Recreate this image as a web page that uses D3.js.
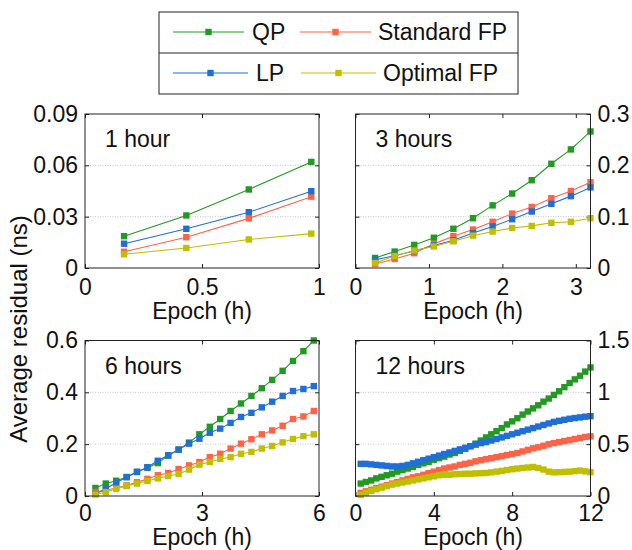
<!DOCTYPE html>
<html>
<head>
<meta charset="utf-8">
<script src="https://cdn.jsdelivr.net/npm/d3@7"></script>
<style>
  body { margin: 0; background: #fff; }
  text { font-family: "Liberation Sans", Arial, sans-serif; fill: #111; }
</style>
</head>
<body>
<svg id="chart" width="632" height="550"></svg>
<script>
// series order: QP, Standard FP, LP, Optimal FP
const seriesNames = ["QP", "Standard FP", "LP", "Optimal FP"];
const seriesColors = ["#229922", "#ff6347", "#1f6fd6", "#bfbf00"];

// 1 hour window
const epoch1h = [0.167, 0.433, 0.7, 0.967];
const qp1h  = [0.0186, 0.0307, 0.0459, 0.062];
const sfp1h = [0.0095, 0.018, 0.029, 0.0417];
const lp1h  = [0.0142, 0.0229, 0.0326, 0.0449];
const ofp1h = [0.008, 0.0117, 0.0167, 0.0201];

// 3 hour window
const epoch3h = [0.267, 0.533, 0.8, 1.067, 1.333, 1.6, 1.867, 2.133, 2.4, 2.667, 2.933, 3.2];
const qp3h  = [0.0196, 0.032, 0.045, 0.059, 0.0765, 0.097, 0.122, 0.145, 0.171, 0.203, 0.231, 0.266];
const sfp3h = [0.0078, 0.0176, 0.0288, 0.047, 0.062, 0.075, 0.09, 0.106, 0.119, 0.136, 0.15, 0.167];
const lp3h  = [0.016, 0.024, 0.033, 0.044, 0.054, 0.068, 0.081, 0.095, 0.11, 0.125, 0.14, 0.157];
const ofp3h = [0.0098, 0.0235, 0.034, 0.042, 0.052, 0.063, 0.071, 0.078, 0.082, 0.088, 0.09, 0.097];

// 6 hour window
const epoch6h = [0.267, 0.533, 0.8, 1.067, 1.333, 1.6, 1.867, 2.133, 2.4, 2.667, 2.933,
  3.2, 3.467, 3.733, 4.0, 4.267, 4.533, 4.8, 5.067, 5.333, 5.6, 5.867];
const qp6h  = [0.031, 0.048, 0.059, 0.073, 0.093, 0.109, 0.127, 0.156, 0.179, 0.206, 0.238,
  0.267, 0.297, 0.328, 0.357, 0.386, 0.416, 0.448, 0.483, 0.521, 0.559, 0.6];
const sfp6h = [0.015, 0.022, 0.031, 0.041, 0.053, 0.066, 0.08, 0.089, 0.104, 0.118, 0.131,
  0.15, 0.163, 0.183, 0.202, 0.219, 0.238, 0.253, 0.271, 0.297, 0.307, 0.328];
const lp6h  = [0.008, 0.028, 0.051, 0.073, 0.093, 0.111, 0.136, 0.157, 0.179, 0.202, 0.221,
  0.244, 0.26, 0.282, 0.305, 0.321, 0.342, 0.364, 0.386, 0.405, 0.413, 0.424];
const ofp6h = [0.006, 0.015, 0.028, 0.039, 0.048, 0.058, 0.068, 0.077, 0.085, 0.102, 0.121,
  0.131, 0.143, 0.15, 0.163, 0.17, 0.183, 0.193, 0.207, 0.22, 0.231, 0.238];

// 12 hour window
const epoch12h = [0.267, 0.533, 0.8, 1.067, 1.333, 1.6, 1.867, 2.133, 2.4, 2.667, 2.933,
  3.2, 3.467, 3.733, 4.0, 4.267, 4.533, 4.8, 5.067, 5.333, 5.6, 5.867,
  6.133, 6.4, 6.667, 6.933, 7.2, 7.467, 7.733, 8.0, 8.267, 8.533, 8.8,
  9.067, 9.333, 9.6, 9.867, 10.133, 10.4, 10.667, 10.933, 11.2, 11.467, 11.733, 12.0];
const qp12h  = [0.12, 0.135, 0.15, 0.17, 0.185, 0.2, 0.215, 0.235, 0.25, 0.265, 0.28,
  0.3, 0.315, 0.33, 0.35, 0.365, 0.38, 0.4, 0.415, 0.435, 0.455, 0.48,
  0.505, 0.535, 0.565, 0.595, 0.625, 0.655, 0.69, 0.72, 0.75, 0.785, 0.815,
  0.845, 0.875, 0.91, 0.94, 0.975, 1.01, 1.05, 1.09, 1.125, 1.16, 1.2, 1.24];
const sfp12h = [0.03, 0.045, 0.06, 0.075, 0.09, 0.105, 0.12, 0.135, 0.15, 0.165, 0.18,
  0.19, 0.205, 0.22, 0.235, 0.25, 0.265, 0.275, 0.285, 0.3, 0.31, 0.32,
  0.335, 0.345, 0.355, 0.365, 0.375, 0.385, 0.395, 0.405, 0.415, 0.43, 0.445,
  0.46, 0.47, 0.485, 0.5, 0.51, 0.52, 0.53, 0.54, 0.55, 0.56, 0.57, 0.575];
const lp12h  = [0.31, 0.31, 0.305, 0.3, 0.295, 0.29, 0.285, 0.285, 0.29, 0.3, 0.315,
  0.33, 0.345, 0.36, 0.375, 0.39, 0.405, 0.42, 0.435, 0.45, 0.465, 0.48,
  0.495, 0.51, 0.52, 0.535, 0.55, 0.565, 0.58, 0.595, 0.61, 0.625, 0.64,
  0.655, 0.67, 0.685, 0.7, 0.715, 0.725, 0.735, 0.745, 0.752, 0.758, 0.765, 0.77];
const ofp12h = [0.01, 0.03, 0.05, 0.065, 0.08, 0.095, 0.11, 0.12, 0.13, 0.14, 0.15,
  0.16, 0.17, 0.18, 0.19, 0.2, 0.205, 0.205, 0.21, 0.212, 0.215, 0.215,
  0.218, 0.22, 0.222, 0.228, 0.235, 0.242, 0.25, 0.258, 0.265, 0.27, 0.275,
  0.28, 0.27, 0.255, 0.235, 0.228, 0.23, 0.232, 0.235, 0.24, 0.245, 0.238, 0.23];

// tick labels
const xTicks1h = [0, 0.5, 1],  yTicks1h = [0, 0.03, 0.06, 0.09];
const xTicks3h = [0, 1, 2, 3], yTicks3h = [0, 0.1, 0.2, 0.3];
const xTicks6h = [0, 3, 6],    yTicks6h = [0, 0.2, 0.4, 0.6];
const xTicks12h = [0, 4, 8, 12], yTicks12h = [0, 0.5, 1, 1.5];

const panels = [
  { title: "1 hour", left: 85, top: 114, w: 234, h: 154, xMax: 1, yMax: 0.09, right: false,
    xTicks: xTicks1h, yTicks: yTicks1h, epoch: epoch1h, values: [qp1h, sfp1h, lp1h, ofp1h] },
  { title: "3 hours", left: 355.5, top: 114, w: 235, h: 154, xMax: 3.2, yMax: 0.3, right: true,
    xTicks: xTicks3h, yTicks: yTicks3h, epoch: epoch3h, values: [qp3h, sfp3h, lp3h, ofp3h] },
  { title: "6 hours", left: 85, top: 340.5, w: 234, h: 155.5, xMax: 6, yMax: 0.6, right: false,
    xTicks: xTicks6h, yTicks: yTicks6h, epoch: epoch6h, values: [qp6h, sfp6h, lp6h, ofp6h] },
  { title: "12 hours", left: 355.5, top: 340.5, w: 235, h: 155.5, xMax: 12, yMax: 1.5, right: true,
    xTicks: xTicks12h, yTicks: yTicks12h, epoch: epoch12h, values: [qp12h, sfp12h, lp12h, ofp12h] }
];

const svg = d3.select("#chart");
const fontSize = 23;
const markerSize = 6.4;
const frameColor = "#222";

panels.forEach(p => {
  const g = svg.append("g").attr("transform", `translate(${p.left},${p.top})`);
  const lowerRow = p.top > 300;

  const x = d3.scaleLinear().domain([0, p.xMax]).range([0, p.w]);
  const y = d3.scaleLinear().domain([0, p.yMax]).range([p.h, 0]);

  // dotted grid at the inner y ticks
  g.selectAll(".grid")
    .data(p.yTicks.filter(t => t > 0 && t < p.yMax))
    .enter().append("line")
    .attr("x1", 0).attr("x2", p.w)
    .attr("y1", d => y(d)).attr("y2", d => y(d))
    .attr("stroke", "#c4c4c4").attr("stroke-width", 1)
    .attr("stroke-dasharray", "1,1.5");

  // axes: ticks point inward, labels outside
  const fmt = d => String(d);
  const bottom = g.append("g").attr("transform", `translate(0,${p.h})`)
    .call(d3.axisBottom(x).tickValues(p.xTicks).tickSizeInner(-4).tickSizeOuter(0)
      .tickPadding(lowerRow ? 9 : 11).tickFormat(fmt));
  const top = g.append("g")
    .call(d3.axisTop(x).tickValues(p.xTicks).tickSizeInner(-4).tickSizeOuter(0).tickFormat(""));
  const yMain = p.right ? d3.axisRight(y) : d3.axisLeft(y);
  const yOther = p.right ? d3.axisLeft(y) : d3.axisRight(y);
  const yAx = g.append("g").attr("transform", `translate(${p.right ? p.w : 0},0)`)
    .call(yMain.tickValues(p.yTicks).tickSizeInner(-4).tickSizeOuter(0).tickPadding(7).tickFormat(fmt));
  const yAx2 = g.append("g").attr("transform", `translate(${p.right ? 0 : p.w},0)`)
    .call(yOther.tickValues(p.yTicks).tickSizeInner(-4).tickSizeOuter(0).tickFormat(""));

  [bottom, top, yAx, yAx2].forEach(a => {
    a.select(".domain").remove();
    a.selectAll("line").attr("stroke", frameColor);
    a.selectAll("text").attr("font-size", fontSize).attr("font-family", "Liberation Sans, Arial, sans-serif").attr("fill", "#111");
  });

  // series
  p.values.forEach((vals, i) => {
    const pts = p.epoch.map((e, j) => [e, vals[j]]);
    const sg = g.append("g");
    sg.append("path")
      .datum(pts)
      .attr("fill", "none")
      .attr("stroke", seriesColors[i])
      .attr("stroke-width", 1.1)
      .attr("d", d3.line().x(d => x(d[0])).y(d => y(d[1])));
    sg.selectAll("rect")
      .data(pts)
      .enter().append("rect")
      .attr("x", d => x(d[0]) - markerSize / 2)
      .attr("y", d => y(d[1]) - markerSize / 2)
      .attr("width", markerSize).attr("height", markerSize)
      .attr("fill", seriesColors[i]);
  });

  // frame
  g.append("rect")
    .attr("width", p.w).attr("height", p.h)
    .attr("fill", "none").attr("stroke", frameColor).attr("stroke-width", 1);

  // panel title
  g.append("text")
    .attr("x", 20).attr("y", 33)
    .attr("font-size", fontSize)
    .text(p.title);

  // x axis title
  g.append("text")
    .attr("x", p.w / 2).attr("y", p.h + (lowerRow ? 49 : 51))
    .attr("text-anchor", "middle")
    .attr("font-size", fontSize)
    .text("Epoch (h)");
});

// shared y axis title
svg.append("text")
  .attr("transform", "translate(27,329) rotate(-90)")
  .attr("text-anchor", "middle")
  .attr("font-size", 24)
  .text("Average residual (ns)");

// legend: two stacked rows
const legend = svg.append("g");
legend.append("rect")
  .attr("x", 159).attr("y", 12).attr("width", 359).attr("height", 82)
  .attr("fill", "#fff").attr("stroke", frameColor).attr("stroke-width", 1);
legend.append("line")
  .attr("x1", 159).attr("x2", 518).attr("y1", 53).attr("y2", 53)
  .attr("stroke", frameColor).attr("stroke-width", 1);

const legendSlots = [
  { x1: 173, x2: 244, tx: 252, y: 32 },
  { x1: 300, x2: 371, tx: 378, y: 32 },
  { x1: 173, x2: 248, tx: 256, y: 73 },
  { x1: 301, x2: 376, tx: 383, y: 73 }
];
seriesNames.forEach((name, i) => {
  const s = legendSlots[i];
  legend.append("line")
    .attr("x1", s.x1).attr("x2", s.x2).attr("y1", s.y).attr("y2", s.y)
    .attr("stroke", seriesColors[i]).attr("stroke-width", 1.1);
  legend.append("rect")
    .attr("x", (s.x1 + s.x2) / 2 - markerSize / 2).attr("y", s.y - markerSize / 2)
    .attr("width", markerSize).attr("height", markerSize)
    .attr("fill", seriesColors[i]);
  legend.append("text")
    .attr("x", s.tx).attr("y", s.y)
    .attr("dy", "0.36em")
    .attr("font-size", fontSize)
    .text(name);
});
</script>
</body>
</html>
